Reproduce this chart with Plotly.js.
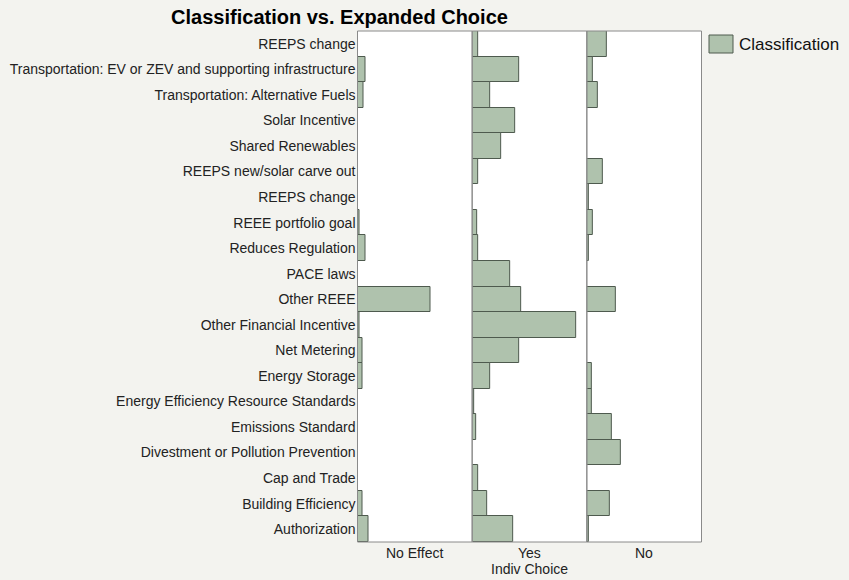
<!DOCTYPE html>
<html><head><meta charset="utf-8">
<script src="https://cdn.plot.ly/plotly-3.0.1.min.js"></script>
<style>html,body{margin:0;padding:0;background:#f3f3ef;}#chart{width:849px;height:580px;}</style>
</head><body><div id="chart"></div>
<script>
const categories = [
  "REEPS change",
  "Transportation: EV or ZEV and supporting infrastructure",
  "Transportation: Alternative Fuels",
  "Solar Incentive",
  "Shared Renewables",
  "REEPS new/solar carve out",
  "REEPS change",
  "REEE portfolio goal",
  "Reduces Regulation",
  "PACE laws",
  "Other REEE",
  "Other Financial Incentive",
  "Net Metering",
  "Energy Storage",
  "Energy Efficiency Resource Standards",
  "Emissions Standard",
  "Divestment or Pollution Prevention",
  "Cap and Trade",
  "Building Efficiency",
  "Authorization"
];
const panels = ["No Effect", "Yes", "No"];
const noEffect = [0, 8, 6, 0, 0, 0, 0, 2, 8, 0, 73, 2, 5, 5, 0, 0, 0, 0, 5, 11];
const yes      = [6, 47, 18, 43, 29, 6, 0, 5, 6, 38, 49, 104, 47, 18, 1.5, 4, 0, 6, 15, 41];
const no       = [20, 6, 11, 0, 0, 16, 2, 6, 2, 0, 29, 0, 0, 5, 5, 25, 34, 0, 23, 2];
const xTitle = "Indiv Choice";
const seriesName = "Classification";
const chartTitle = "Classification vs. Expanded Choice";

const series = [noEffect, yes, no];
const idx = categories.map((c, i) => i);
const axNames = ["x", "x2", "x3"];
const barColor = "#afc2ad", barLine = "#4e5a4e";
const traces = series.map((vals, k) => ({
  type: "bar", orientation: "h",
  x: vals.map(v => v === 0 ? null : v), y: idx,
  xaxis: axNames[k], yaxis: "y",
  name: seriesName, showlegend: false,
  marker: {color: barColor, line: {color: barLine, width: 1}},
  hoverinfo: "x+y"
}));

const W = 849, H = 580;
const L = 357.5, R = 701.5;
const dStart = L / W, dEnd = R / W, pw = (dEnd - dStart) / 3;
const layout = {
  width: W, height: H,
  paper_bgcolor: "#f3f3ef", plot_bgcolor: "#ffffff",
  font: {family: "Liberation Sans, Arial, sans-serif", color: "#222", size: 14},
  margin: {l: 0, r: 0, t: 31, b: 38},
  title: {text: "<b>" + chartTitle + "</b>", font: {size: 20, color: "#000"},
          xref: "container", x: 339.5 / W, xanchor: "center",
          yref: "container", y: 1 - 17 / H, yanchor: "middle"},
  bargap: 0,
  showlegend: false,
  yaxis: {range: [19.5, -0.5], tickvals: idx, ticktext: categories,
          ticks: "", showgrid: false, zeroline: false, showline: false,
          tickfont: {size: 14, color: "#222"}, ticklabelstandoff: 1,
          domain: [0, 1], automargin: false},
  shapes: [
    {type: "rect", xref: "paper", yref: "paper",
     x0: 709 / W, x1: 733 / W, y0: 1 - (53 - 31) / (H - 69), y1: 1 - (35 - 31) / (H - 69),
     fillcolor: barColor, line: {color: barLine, width: 1}}
  ],
  annotations: [
    {text: seriesName, xref: "paper", yref: "paper", x: 737 / W, xanchor: "left",
     y: 1 - (44.5 - 31) / (H - 69), yanchor: "middle", showarrow: false,
     font: {size: 17, color: "#111"}}
  ]
};
axNames.forEach((a, k) => {
  const key = k === 0 ? "xaxis" : "xaxis" + (k + 1);
  layout[key] = {domain: [dStart + k * pw, dStart + (k + 1) * pw], range: [0, 115],
                 anchor: "y", showticklabels: false, ticks: "", showgrid: false,
                 zeroline: false, showline: false, fixedrange: true};
  layout.shapes.push({type: "rect", xref: a + " domain", yref: "paper",
                      x0: 0, x1: 1, y0: 0, y1: 1, line: {color: "#8a8a8a", width: 1},
                      fillcolor: "rgba(0,0,0,0)", layer: "above"});
  layout.annotations.push({text: panels[k], xref: a + " domain", yref: "paper",
                           x: 0.5, y: 0, yanchor: "top", yshift: -1, showarrow: false,
                           font: {size: 14, color: "#222"}});
});
layout.annotations.push({text: xTitle, xref: "paper", yref: "paper",
                         x: (dStart + dEnd) / 2, y: 0, yanchor: "top", yshift: -17,
                         showarrow: false, font: {size: 14, color: "#222"}});
Plotly.newPlot("chart", traces, layout, {displayModeBar: false});
</script></body></html>
